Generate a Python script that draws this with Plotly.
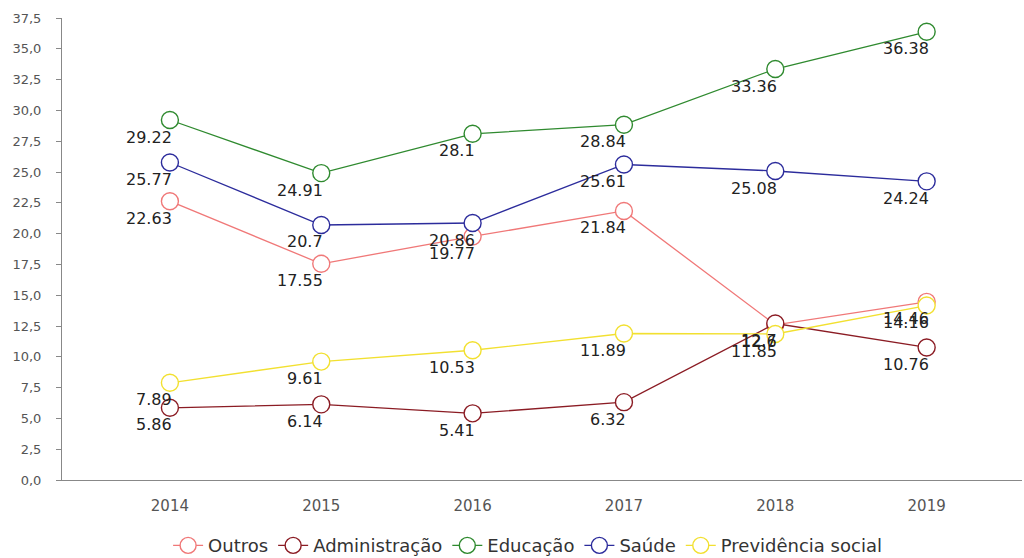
import plotly.graph_objects as go

years = [2014, 2015, 2016, 2017, 2018, 2019]

outros = [22.63, 17.55, 19.77, 21.84, 12.6, 14.46]
administracao = [5.86, 6.14, 5.41, 6.32, 12.7, 10.76]
educacao = [29.22, 24.91, 28.1, 28.84, 33.36, 36.38]
saude = [25.77, 20.7, 20.86, 25.61, 25.08, 24.24]
previdencia = [7.89, 9.61, 10.53, 11.89, 11.85, 14.16]

series = [
    ("Outros", outros, "#f07878"),
    ("Administração", administracao, "#8b1c24"),
    ("Educação", educacao, "#2f8a2f"),
    ("Saúde", saude, "#2c2c9c"),
    ("Previdência social", previdencia, "#f2e030"),
]

y_ticks = [i * 2.5 for i in range(16)]

fig = go.Figure()
for name, vals, color in series:
    fig.add_trace(go.Scatter(
        x=years, y=vals, name=name,
        mode="lines+markers",
        line=dict(color=color, width=1.3),
        marker=dict(symbol="circle", size=17, color="white",
                    line=dict(color=color, width=1.4)),
        cliponaxis=False,
    ))

# value labels sit just below each point, right-aligned on the marker
for name, vals, color in series:
    for x, v in zip(years, vals):
        fig.add_annotation(
            x=x, y=v, text=f"{v:g}", showarrow=False,
            xanchor="right", yanchor="middle", xshift=4, yshift=-17,
            font=dict(family="DejaVu Sans", size=16, color="#222222"),
        )

fig.update_layout(
    width=1024, height=558,
    margin=dict(l=62, r=2, t=18, b=78),
    paper_bgcolor="white", plot_bgcolor="white",
    font=dict(family="DejaVu Sans", color="#444444"),
    separators=",.",
    showlegend=True,
    legend=dict(orientation="h", x=0.485, xanchor="center",
                yref="container", y=0.022, yanchor="middle",
                font=dict(size=18, color="#333333"),
                itemwidth=30, tracegroupgap=0),
)
fig.update_xaxes(
    range=[2013.287, 2019.63],
    tickvals=years, ticktext=[str(y) for y in years],
    showgrid=False, zeroline=False,
    showline=True, linecolor="#888888", linewidth=1,
    ticks="", ticklabelstandoff=12,
    tickfont=dict(size=15, color="#555555"),
)
fig.update_yaxes(
    range=[0, 37.5], tickvals=y_ticks, tickformat=".1f",
    showgrid=False, zeroline=False,
    showline=True, linecolor="#888888", linewidth=1,
    ticks="outside", ticklen=5, tickcolor="#888888",
    ticklabelstandoff=12,
    tickfont=dict(size=13, color="#555555"),
)

fig.write_html("out.html")
